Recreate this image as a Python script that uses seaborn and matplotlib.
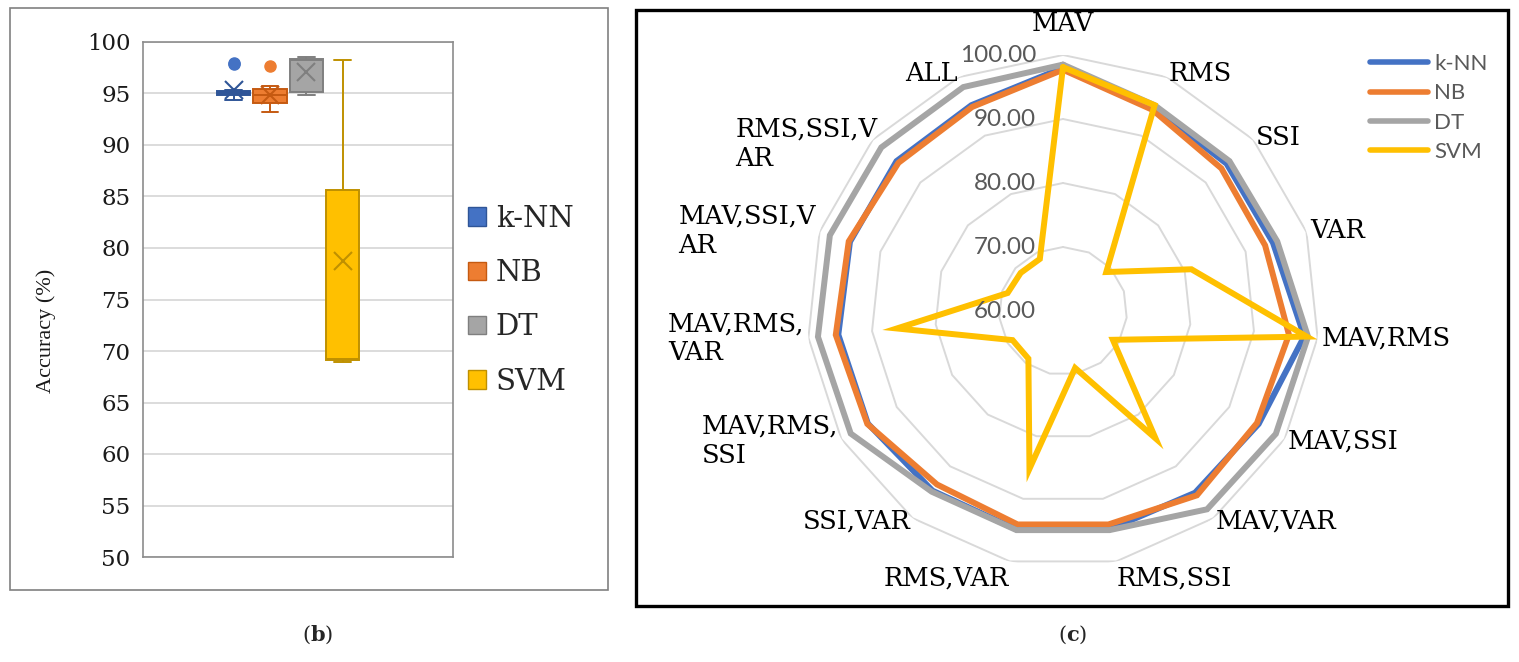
import numpy as np
import pandas as pd
import matplotlib
matplotlib.use("Agg")
import matplotlib.pyplot as plt
import seaborn as sns
from matplotlib.patches import Rectangle, Patch
from matplotlib.lines import Line2D

# ---------------- data ----------------
features = ["MAV", "RMS", "SSI", "VAR", "MAV,RMS", "MAV,SSI", "MAV,VAR",
            "RMS,SSI", "RMS,VAR", "SSI,VAR", "MAV,RMS,SSI", "MAV,RMS,VAR",
            "MAV,SSI,VAR", "RMS,SSI,VAR", "ALL"]
feature_labels = ["MAV", "RMS", "SSI", "VAR", "MAV,RMS", "MAV,SSI", "MAV,VAR",
                  "RMS,SSI", "RMS,VAR", "SSI,VAR", "MAV,RMS,\nSSI", "MAV,RMS,\nVAR",
                  "MAV,SSI,V\nAR", "RMS,SSI,V\nAR", "ALL"]
classifiers = ["k-NN", "NB", "DT", "SVM"]
knn = [98.0, 94.8, 94.4, 94.5, 97.9, 95.3, 95.1, 94.9, 94.9, 94.7, 95.2, 95.3, 95.0, 95.0, 95.2]
nb = [97.7, 94.4, 93.3, 93.2, 95.5, 95.0, 95.6, 94.1, 94.1, 93.5, 95.3, 95.7, 95.2, 94.6, 94.9]
dt = [98.5, 95.2, 95.0, 95.2, 98.5, 98.4, 98.3, 95.0, 95.0, 94.9, 98.3, 98.5, 98.3, 98.2, 98.3]
svm = [98.1, 95.2, 69.1, 81.1, 98.3, 69.0, 84.6, 69.1, 85.2, 69.2, 69.1, 86.1, 69.1, 68.9, 68.9]
radial_ticks = [60, 70, 80, 90, 100]
box_ticks = [50, 55, 60, 65, 70, 75, 80, 85, 90, 95, 100]

fills = ["#4472C4", "#ED7D31", "#A5A5A5", "#FFC000"]
edges = ["#2F5597", "#C55A11", "#7F7F7F", "#BF9000"]

# ---------------- figure ----------------
sns.set_theme(style="white")
plt.rcParams["font.family"] = ["DejaVu Serif"]
plt.rcParams["mathtext.fontset"] = "dejavuserif"

W, H = 1519, 662
fig = plt.figure(figsize=(W / 100, H / 100), dpi=100)
fig.patch.set_facecolor("white")

def fx(px):
    return px / W

def fy(py):
    return 1 - py / H

# panel frames
fig.add_artist(Rectangle((fx(10), fy(590)), fx(598), 582 / H, transform=fig.transFigure,
                         fill=False, edgecolor="#808080", linewidth=1.2))
fig.add_artist(Rectangle((fx(636), fy(606)), fx(872), 596 / H, transform=fig.transFigure,
                         fill=False, edgecolor="black", linewidth=2.4))

# ---------------- (b) box plot ----------------
series = [knn, nb, dt, svm]
df = pd.DataFrame({
    "Classifier": np.repeat(classifiers, len(features)),
    "Accuracy": np.concatenate(series),
})

axb = fig.add_axes([fx(143), fy(557), fx(453 - 143), 515 / H])
for c, fc, ec in zip(classifiers, fills, edges):
    sub = df[df["Classifier"] == c]
    sns.boxplot(data=sub, x="Classifier", y="Accuracy", order=classifiers,
                color=fc, linecolor=ec, saturation=1, width=0.92, linewidth=1.4,
                whis=1.5, showmeans=True,
                meanprops={"marker": "x", "markeredgecolor": ec, "markerfacecolor": ec,
                           "markersize": 13, "markeredgewidth": 1.5},
                flierprops={"marker": "o", "markerfacecolor": fc, "markeredgecolor": fc,
                            "markersize": 8},
                ax=axb)
axb.set_ylim(50, 100)
axb.set_xlim(-2.49, 6.03)
axb.set_yticks(box_ticks)
axb.set_yticklabels([str(t) for t in box_ticks], fontsize=16.5, color="#1a1a1a")
axb.set_xticks([])
axb.set_xlabel("")
axb.set_ylabel("")
axb.yaxis.grid(True, color="#d9d9d9", linewidth=1.3)
axb.set_axisbelow(True)
axb.tick_params(axis="y", length=0, pad=9)
for s in axb.spines.values():
    s.set_color("#8c8c8c")
    s.set_linewidth(1.2)

fig.text(fx(46), fy(331), "Accuracy (%)", rotation=90, ha="center", va="center",
         fontsize=16, family=["Liberation Serif", "DejaVu Serif"], color="#1a1a1a")

box_handles = [Patch(facecolor=fc, edgecolor=ec, linewidth=1.0) for fc, ec in zip(fills, edges)]
fig.legend(box_handles, classifiers, loc="upper left", bbox_to_anchor=(fx(468), fy(205)),
           frameon=False, fontsize=21, handlelength=0.6, handleheight=0.6,
           labelspacing=0.9, handletextpad=0.35, borderpad=0, borderaxespad=0)

# ---------------- (c) radar ----------------
n = len(features)
angles = np.linspace(0, 2 * np.pi, n, endpoint=False)
closed = np.concatenate([angles, angles[:1]])

cx, cy, R = 1063, 311, 256
axr = fig.add_axes([fx(cx - R), fy(cy + R), fx(2 * R), 2 * R / H], projection="polar")
axr.set_theta_zero_location("N")
axr.set_theta_direction(-1)
axr.set_ylim(60, 100)
axr.grid(False)
axr.set_xticks([])
axr.set_yticks([])
axr.spines["polar"].set_visible(False)
axr.patch.set_alpha(0)

for lvl in radial_ticks[1:]:
    axr.plot(closed, [lvl] * (n + 1), color="#d9d9d9", linewidth=1.4, zorder=1)

line_w = 4.3
for vals, c, name in zip(series, fills, classifiers):
    v = np.concatenate([vals, vals[:1]])
    axr.plot(closed, v, color=c, linewidth=line_w, solid_joinstyle="miter", zorder=3, label=name)

for lvl in radial_ticks:
    axr.annotate(f"{lvl:.2f}", xy=(0, lvl), xytext=(-27, 0), textcoords="offset pixels",
                 ha="right", va="center", fontsize=17.5, color="#595959", family="Lato",
                 zorder=5)

for a, lab in zip(angles, feature_labels):
    s, c = np.sin(a), np.cos(a)
    ha = "left" if s > 0.15 else ("right" if s < -0.15 else "center")
    va = "center"
    if c > 0.95:
        va = "bottom"
    elif c < -0.95:
        va = "top"
    r = 100.6
    if lab == "MAV":
        r = 103.0
    elif lab.startswith("RMS,SSI,V"):
        r = 99.0
    axr.text(a, r, lab, ha=ha, va=va, fontsize=18.5, color="black",
             multialignment="left", linespacing=1.2, clip_on=False)

rad_handles = [Line2D([0], [0], color=c, linewidth=4, solid_capstyle="round") for c in fills]
leg = fig.legend(rad_handles, classifiers, loc="upper left", bbox_to_anchor=(fx(1370), fy(54)),
                 frameon=False, handlelength=2.6, handletextpad=0.3,
                 labelspacing=0.42, borderpad=0, borderaxespad=0,
                 prop={"family": "Lato", "size": 16})
for t in leg.get_texts():
    t.set_color("#595959")

# captions
fig.text(fx(318), fy(635), r"($\mathbf{b}$)", ha="center", va="center", fontsize=15)
fig.text(fx(1073), fy(635), r"($\mathbf{c}$)", ha="center", va="center", fontsize=15)

fig.savefig("out.png", dpi=100, facecolor="white")
